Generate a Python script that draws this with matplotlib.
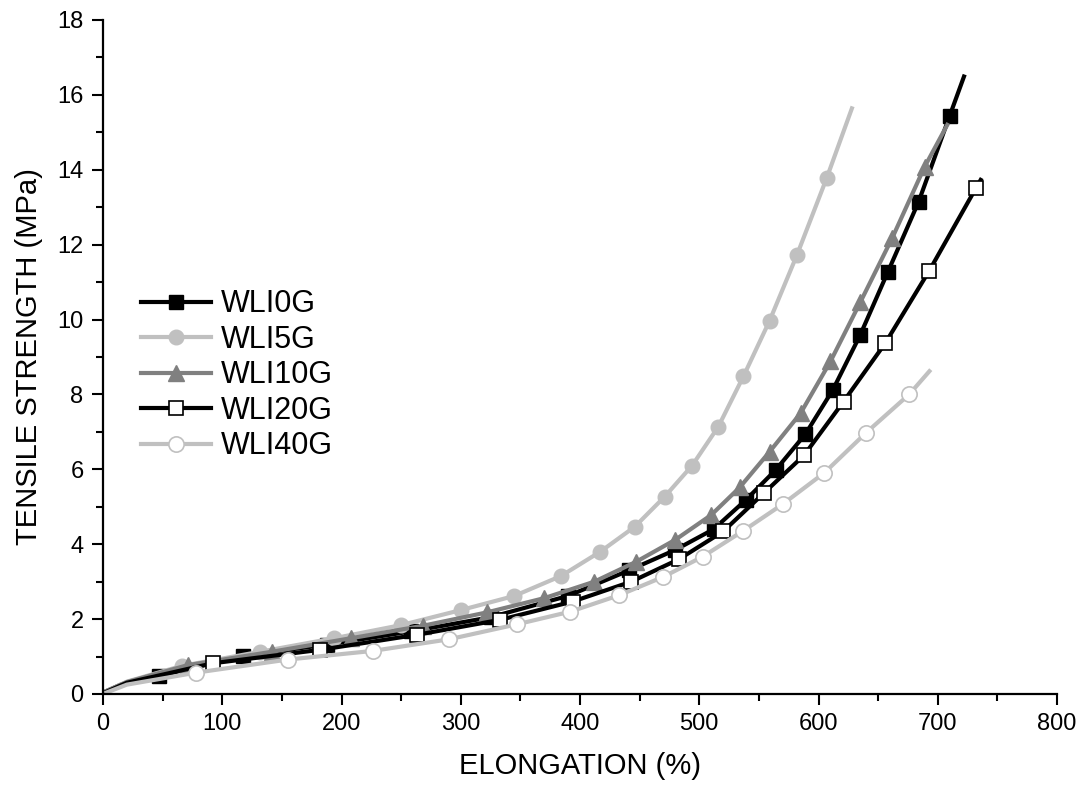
import matplotlib
matplotlib.use("Agg")
import matplotlib.pyplot as plt
from matplotlib.ticker import MultipleLocator

plt.rcParams.update({
    "font.family": ["Liberation Sans", "DejaVu Sans"],
    "axes.spines.right": False,
    "axes.spines.top": False,
})

# ── data (elongation %, tensile strength MPa) ──
wli0g_x = [3, 15, 47, 117, 188, 258, 325, 390, 441, 480, 512, 539, 564, 589, 612, 635, 658, 684, 710, 722]
wli0g_y = [0.08, 0.25, 0.48, 1.02, 1.32, 1.67, 2.05, 2.62, 3.3, 3.85, 4.4, 5.18, 5.98, 6.94, 8.12, 9.59, 11.26, 13.15, 15.44, 16.49]

wli5g_x = [3, 20, 66, 132, 194, 250, 300, 345, 384, 417, 446, 471, 494, 516, 537, 559, 582, 607, 628]
wli5g_y = [0.08, 0.33, 0.75, 1.13, 1.49, 1.84, 2.24, 2.62, 3.15, 3.80, 4.47, 5.27, 6.10, 7.14, 8.48, 9.97, 11.73, 13.79, 15.64]

wli10g_x = [3, 20, 71, 142, 208, 268, 322, 370, 412, 447, 480, 510, 534, 559, 585, 610, 635, 662, 689, 708]
wli10g_y = [0.08, 0.32, 0.77, 1.13, 1.49, 1.82, 2.18, 2.56, 3.0, 3.53, 4.12, 4.78, 5.52, 6.47, 7.5, 8.88, 10.46, 12.19, 14.08, 15.2]

wli20g_x = [3, 20, 92, 182, 263, 333, 394, 443, 483, 520, 554, 588, 621, 656, 693, 732, 736]
wli20g_y = [0.06, 0.3, 0.82, 1.18, 1.58, 1.98, 2.47, 3.0, 3.6, 4.34, 5.36, 6.38, 7.81, 9.37, 11.31, 13.51, 13.73]

wli40g_x = [3, 20, 78, 155, 226, 290, 347, 392, 433, 470, 503, 537, 570, 605, 640, 676, 693]
wli40g_y = [0.04, 0.25, 0.57, 0.92, 1.15, 1.46, 1.86, 2.2, 2.64, 3.13, 3.67, 4.36, 5.07, 5.91, 6.98, 8.0, 8.62]

LIGHT = "#c0c0c0"
DARK = "#808080"

fig = plt.figure(figsize=(10.83, 7.91), dpi=100)
ax = fig.add_axes([103/1083, 1 - 694/791, 954/1083, 674/791])

lw = 3.0
ax.plot(wli0g_x, wli0g_y, color="black", lw=lw, marker="s", ms=9.5,
        mfc="black", mec="black", markevery=list(range(2, 19)), label="WLI0G")
ax.plot(wli5g_x, wli5g_y, color=LIGHT, lw=lw, marker="o", ms=10.5,
        mfc=LIGHT, mec=LIGHT, markevery=list(range(2, 18)), label="WLI5G")
ax.plot(wli10g_x, wli10g_y, color=DARK, lw=lw, marker="^", ms=11,
        mfc=DARK, mec=DARK, markevery=list(range(2, 19)), label="WLI10G")
ax.plot(wli20g_x, wli20g_y, color="black", lw=lw, marker="s", ms=9.5,
        mfc="white", mec="black", mew=1.2, markevery=list(range(2, 16)), label="WLI20G")
ax.plot(wli40g_x, wli40g_y, color=LIGHT, lw=lw, marker="o", ms=11,
        mfc="white", mec=LIGHT, mew=1.2, markevery=list(range(2, 16)), label="WLI40G")

ax.set_xlim(0, 800)
ax.set_ylim(0, 18)
ax.xaxis.set_major_locator(MultipleLocator(100))
ax.xaxis.set_minor_locator(MultipleLocator(50))
ax.yaxis.set_major_locator(MultipleLocator(2))
ax.yaxis.set_minor_locator(MultipleLocator(1))
ax.tick_params(which="major", direction="out", length=8, width=1.5, labelsize=17, pad=6)
ax.tick_params(which="minor", direction="out", length=5, width=1.5)
for s in ("left", "bottom"):
    ax.spines[s].set_linewidth(1.6)

ax.set_xlabel("ELONGATION (%)", fontsize=21, labelpad=12)
ax.set_ylabel("TENSILE STRENGTH (MPa)", fontsize=21, labelpad=10)

ax.legend(loc="center left", bbox_to_anchor=(0.040, 0.473), frameon=False,
          fontsize=22, handlelength=2.3, handletextpad=0.3, labelspacing=0.18,
          borderpad=0, borderaxespad=0)

fig.savefig("out.png", dpi=100)
